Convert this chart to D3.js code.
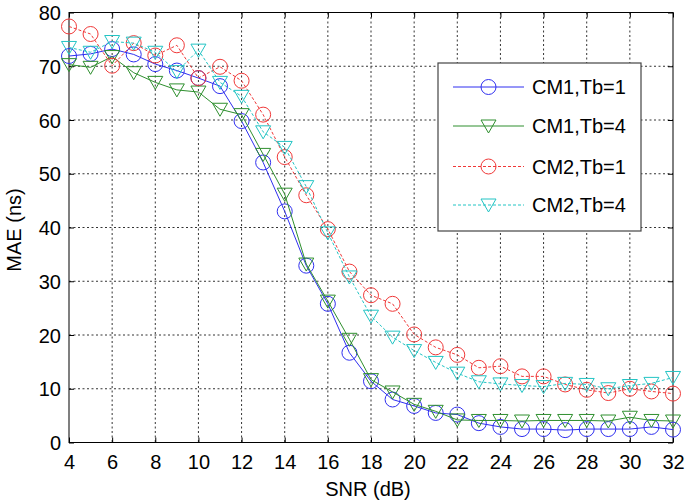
<!DOCTYPE html>
<html>
<head>
<meta charset="utf-8">
<script src="https://cdn.jsdelivr.net/npm/d3@7"></script>
<style>
  html, body { margin: 0; padding: 0; background: #fff; }
  svg { display: block; }
  text { font-family: "Liberation Sans", Arial, Helvetica, sans-serif; }
</style>
</head>
<body>
<svg id="chart" width="685" height="501"></svg>
<script>
// ---- data ----
const snr = [4,5,6,7,8,9,10,11,12,13,14,15,16,17,18,19,20,21,22,23,24,25,26,27,28,29,30,31,32];
const cm1tb1 = [71.9,72.3,73.2,72.2,70.4,69.2,67.8,66.3,59.8,52.1,43.0,32.9,25.8,16.7,11.4,8.0,6.8,5.5,5.2,3.6,2.9,2.5,2.5,2.3,2.5,2.5,2.5,2.9,2.4];
const cm1tb4 = [70.3,69.8,71.8,68.8,67.0,65.6,65.2,62.0,61.0,53.6,46.2,33.2,26.3,19.2,11.7,9.4,7.1,5.8,4.2,4.1,4.1,4.0,4.1,4.1,4.1,4.0,4.7,4.1,4.0];
const cm2tb1 = [77.4,76.0,70.1,74.3,72.0,73.9,67.8,69.9,67.3,61.0,53.1,46.0,39.7,31.8,27.4,25.8,20.1,17.7,16.3,13.9,14.2,12.3,12.3,10.8,9.8,9.2,10.0,9.5,9.1];
const cm2tb4 = [73.5,72.6,74.6,74.3,72.6,69.0,73.0,67.0,64.4,57.8,54.9,47.6,39.0,30.8,23.5,19.6,17.1,14.9,12.9,11.3,10.9,10.6,10.4,11.0,10.8,10.0,10.6,11.0,12.1];
const xTicks = [4,6,8,10,12,14,16,18,20,22,24,26,28,30,32];
const yTicks = [0,10,20,30,40,50,60,70,80];
const seriesNames = ["CM1,Tb=1","CM1,Tb=4","CM2,Tb=1","CM2,Tb=4"];

const series = [
  {name: seriesNames[0], values: cm1tb1, color: "#2f2ff0", marker: "circle", dash: null},
  {name: seriesNames[1], values: cm1tb4, color: "#2e8f2e", marker: "tri", dash: null},
  {name: seriesNames[2], values: cm2tb1, color: "#f03838", marker: "circle", dash: "3,2"},
  {name: seriesNames[3], values: cm2tb4, color: "#22c4c4", marker: "tri", dash: "3,2"}
];

// ---- layout ----
const L = 69, R = 673, T = 12.5, B = 442.5;
const svg = d3.select("#chart");
const x = d3.scaleLinear().domain([4, 32]).range([L, R]);
const y = d3.scaleLinear().domain([0, 80]).range([B, T]);

// grid
const grid = svg.append("g");
grid.selectAll("line.gx").data(xTicks.slice(1, -1)).join("line")
  .attr("x1", d => x(d)).attr("x2", d => x(d)).attr("y1", T).attr("y2", B)
  .attr("stroke", "#333").attr("stroke-width", 1).attr("stroke-dasharray", "2,2.5");
grid.selectAll("line.gy").data(yTicks.slice(1, -1)).join("line")
  .attr("y1", d => y(d)).attr("y2", d => y(d)).attr("x1", L).attr("x2", R)
  .attr("stroke", "#333").attr("stroke-width", 1).attr("stroke-dasharray", "2,2.5");

// axes (ticks inward)
const fs = 20;
const xAxis = d3.axisBottom(x).tickValues(xTicks).tickSize(-5).tickPadding(10).tickFormat(d3.format("d"));
const gx = svg.append("g").attr("transform", `translate(0,${B})`).call(xAxis);
const yAxis = d3.axisLeft(y).tickValues(yTicks).tickSize(-5).tickPadding(8).tickFormat(d3.format("d"));
const gy = svg.append("g").attr("transform", `translate(${L},0)`).call(yAxis);
const xAxisTop = d3.axisTop(x).tickValues(xTicks).tickSize(-5).tickFormat("");
const gxt = svg.append("g").attr("transform", `translate(0,${T})`).call(xAxisTop);
const yAxisRight = d3.axisRight(y).tickValues(yTicks).tickSize(-5).tickFormat("");
const gyr = svg.append("g").attr("transform", `translate(${R},0)`).call(yAxisRight);
[gx, gy, gxt, gyr].forEach(g => {
  g.select(".domain").remove();
  g.selectAll(".tick line").attr("stroke", "#000");
  g.selectAll("text").attr("font-size", fs).attr("fill", "#000")
    .attr("font-family", "'Liberation Sans', Arial, sans-serif");
});
gx.selectAll("text").attr("dy", "0.71em").attr("y", 12);
gy.selectAll("text").attr("dy", "0.35em");

// frame
svg.append("rect").attr("x", L).attr("y", T).attr("width", R - L).attr("height", B - T)
  .attr("fill", "none").attr("stroke", "#000").attr("stroke-width", 1);

// markers
const triPath = (cx, cy) => `M${cx-7.5},${cy-6} L${cx+7.5},${cy-6} L${cx},${cy+7} Z`;
function drawMarker(g, cx, cy, s) {
  if (s.marker === "circle") {
    g.append("circle").attr("cx", cx).attr("cy", cy).attr("r", 7.5)
      .attr("fill", "none").attr("stroke", s.color).attr("stroke-width", 1);
  } else {
    g.append("path").attr("d", triPath(cx, cy))
      .attr("fill", "none").attr("stroke", s.color).attr("stroke-width", 1);
  }
}

// series
const line = d3.line().x((d, i) => x(snr[i])).y(d => y(d));
series.forEach(s => {
  const g = svg.append("g");
  g.append("path").attr("d", line(s.values)).attr("fill", "none")
    .attr("stroke", s.color).attr("stroke-width", 1)
    .attr("stroke-dasharray", s.dash);
  s.values.forEach((v, i) => drawMarker(g, x(snr[i]), y(v), s));
});

// axis labels
svg.append("text").attr("x", 368).attr("y", 496).attr("text-anchor", "middle")
  .attr("font-size", fs).text("SNR (dB)");
svg.append("text").attr("transform", `translate(21,230) rotate(-90)`)
  .attr("text-anchor", "middle").attr("font-size", fs).text("MAE (ns)");

// legend
const lg = svg.append("g");
lg.append("rect").attr("x", 438).attr("y", 63).attr("width", 203).attr("height", 168)
  .attr("fill", "#fff").attr("stroke", "#444").attr("stroke-width", 1.2);
const rowY = [87, 126, 166.5, 205];
series.forEach((s, i) => {
  const yy = rowY[i];
  lg.append("line").attr("x1", 453).attr("x2", 524).attr("y1", yy).attr("y2", yy)
    .attr("stroke", s.color).attr("stroke-width", 1).attr("stroke-dasharray", s.dash);
  drawMarker(lg, 488.5, yy, s);
  lg.append("text").attr("x", 532).attr("y", yy).attr("dy", "0.35em")
    .attr("font-size", fs).text(s.name);
});
</script>
</body>
</html>
